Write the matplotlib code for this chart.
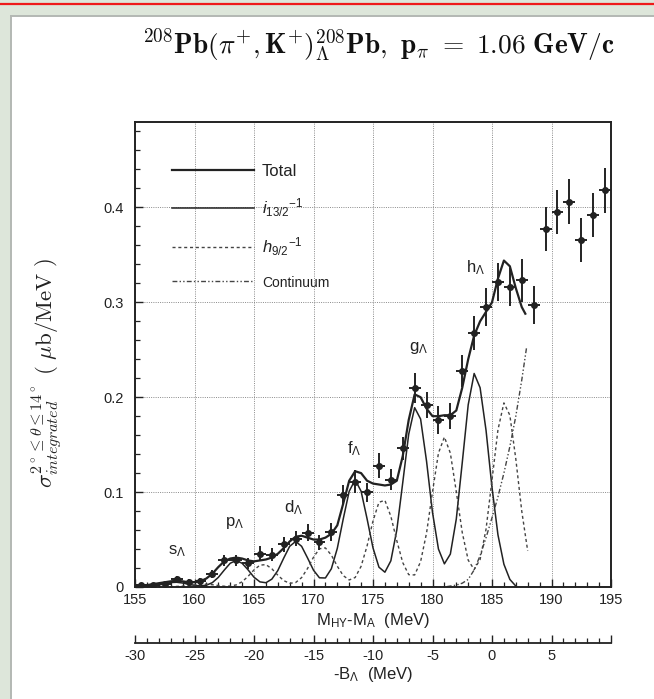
import matplotlib
matplotlib.use('Agg')
import matplotlib.pyplot as plt
from matplotlib.ticker import MultipleLocator, FixedLocator, FixedFormatter, FuncFormatter
from matplotlib.patches import Rectangle
from matplotlib.lines import Line2D

# ---------------- data ----------------
data_x = [155.5, 156.5, 157.5, 158.5, 159.5, 160.5, 161.5, 162.5, 163.5, 164.5,
          165.5, 166.5, 167.5, 168.5, 169.5, 170.5, 171.5, 172.5, 173.5, 174.5,
          175.5, 176.5, 177.5, 178.5, 179.5, 180.5, 181.5, 182.5, 183.5, 184.5,
          185.5, 186.5, 187.5, 188.5, 189.5, 190.5, 191.5, 192.5, 193.5, 194.5]
data_y = [0.0025, 0.002, 0.0035, 0.0085, 0.0056, 0.0066, 0.0137, 0.028, 0.028, 0.025,
          0.035, 0.034, 0.045, 0.051, 0.057, 0.047, 0.058, 0.097, 0.111, 0.100,
          0.128, 0.113, 0.146, 0.210, 0.192, 0.176, 0.180, 0.228, 0.268, 0.295,
          0.321, 0.316, 0.323, 0.297, 0.377, 0.395, 0.406, 0.366, 0.392, 0.418]
data_err = [0.002, 0.002, 0.002, 0.003, 0.003, 0.003, 0.004, 0.006, 0.006, 0.006,
            0.008, 0.007, 0.008, 0.008, 0.009, 0.008, 0.009, 0.010, 0.012, 0.010,
            0.013, 0.011, 0.012, 0.016, 0.014, 0.015, 0.014, 0.017, 0.018, 0.020,
            0.020, 0.020, 0.023, 0.020, 0.023, 0.023, 0.024, 0.023, 0.023, 0.024]
bin_half = 0.5

curve_x = [155.0, 155.5, 156.0, 156.5, 157.0, 157.5, 158.0, 158.5, 159.0, 159.5,
           160.0, 160.5, 161.0, 161.5, 162.0, 162.5, 163.0, 163.5, 164.0, 164.5,
           165.0, 165.5, 166.0, 166.5, 167.0, 167.5, 168.0, 168.5, 169.0, 169.5,
           170.0, 170.5, 171.0, 171.5, 172.0, 172.5, 173.0, 173.5, 174.0, 174.5,
           175.0, 175.5, 176.0, 176.5, 177.0, 177.5, 178.0, 178.5, 179.0, 179.5,
           180.0, 180.5, 181.0, 181.5, 182.0, 182.5, 183.0, 183.5, 184.0, 184.5,
           185.0, 185.5, 186.0, 186.5, 187.0, 187.5, 188.0]

# i13/2^-1 component (155.0 ... 187.0)
i13_y = [0.0, 0.0001, 0.0004, 0.001, 0.002, 0.0035, 0.0047, 0.005, 0.0042, 0.0029,
         0.0017, 0.0012, 0.0019, 0.0046, 0.0101, 0.0178, 0.025, 0.028, 0.025, 0.0181,
         0.0103, 0.0054, 0.0045, 0.0083, 0.0173, 0.0305, 0.0429, 0.048, 0.0429, 0.0306,
         0.0177, 0.0097, 0.0095, 0.0192, 0.0407, 0.0718, 0.1009, 0.113, 0.1009, 0.072,
         0.0412, 0.0209, 0.0156, 0.0276, 0.060, 0.110, 0.161, 0.189, 0.177, 0.1325,
         0.0786, 0.040, 0.0244, 0.0347, 0.0717, 0.131, 0.192, 0.225, 0.210, 0.165,
         0.105, 0.055, 0.024, 0.008, 0.001]

# h9/2^-1 component (155.0 ... 188.0)
h9_y = [0.0, 0.0, 0.0, 0.0001, 0.0002, 0.0003, 0.0004, 0.0006, 0.0009, 0.0014,
        0.0022, 0.0029, 0.0029, 0.0024, 0.0016, 0.0008, 0.001, 0.0022, 0.0055, 0.0112,
        0.018, 0.023, 0.0236, 0.0192, 0.0125, 0.0067, 0.0039, 0.0047, 0.0099, 0.0195,
        0.0314, 0.0403, 0.0412, 0.0336, 0.0219, 0.012, 0.0074, 0.010, 0.0218, 0.0432,
        0.0696, 0.0893, 0.0913, 0.0745, 0.0488, 0.0257, 0.013, 0.0127, 0.0267, 0.0569,
        0.1003, 0.1411, 0.158, 0.1411, 0.1004, 0.0574, 0.0283, 0.0184, 0.029, 0.061,
        0.1127, 0.1656, 0.194, 0.181, 0.135, 0.080, 0.038]

cont_x = [180.0, 181.0, 181.5, 182.0, 182.5, 183.0, 183.5, 184.0, 184.5, 185.0,
          185.5, 186.0, 186.5, 187.0, 187.5, 187.9]
cont_y = [0.0, 0.0, 0.001, 0.002, 0.004, 0.008, 0.018, 0.033, 0.052, 0.073,
          0.095, 0.120, 0.148, 0.180, 0.218, 0.252]

total_x = curve_x[:66] + [187.8]
total_y = [0.002, 0.002, 0.002, 0.003, 0.004, 0.005, 0.006, 0.0065, 0.006, 0.005,
           0.005, 0.006, 0.009, 0.014, 0.021, 0.027, 0.030, 0.031, 0.030, 0.028,
           0.027, 0.028, 0.029, 0.031, 0.035, 0.041, 0.048, 0.053, 0.054, 0.052,
           0.050, 0.050, 0.052, 0.056, 0.065, 0.088, 0.112, 0.122, 0.120, 0.112,
           0.109, 0.108, 0.107, 0.108, 0.112, 0.138, 0.176, 0.203, 0.200, 0.188,
           0.180, 0.180, 0.181, 0.181, 0.186, 0.210, 0.240, 0.265, 0.280, 0.290,
           0.300, 0.325, 0.344, 0.338, 0.315, 0.295, 0.288]

shell_labels = [r's$_{\Lambda}$', r'p$_{\Lambda}$', r'd$_{\Lambda}$',
                r'f$_{\Lambda}$', r'g$_{\Lambda}$', r'h$_{\Lambda}$']
shell_x = [158.5, 163.4, 168.3, 173.4, 178.8, 183.6]
shell_y = [0.038, 0.067, 0.084, 0.146, 0.252, 0.337]

x_ticks = [155, 160, 165, 170, 175, 180, 185, 190, 195]
b_ticks = [-30, -25, -20, -15, -10, -5, 0, 5, 10]
b_labels = ['-30', '-25', '-20', '-15', '-10', '-5', '0', '5', '']
B_OFFSET = 185.0

# ---------------- style ----------------
plt.rcParams['font.family'] = ['Liberation Sans', 'DejaVu Sans']
plt.rcParams['mathtext.fontset'] = 'custom'
plt.rcParams['mathtext.rm'] = 'Liberation Sans'
plt.rcParams['mathtext.it'] = 'Liberation Sans:italic'
plt.rcParams['mathtext.bf'] = 'Liberation Sans:bold'
INK = '#222222'
W, H = 654, 699

fig = plt.figure(figsize=(W / 100, H / 100), dpi=100, facecolor='#dde6da')
fig.add_artist(Rectangle((11 / W, 0), 1, (H - 16) / H, transform=fig.transFigure,
                         facecolor='white', edgecolor='none', zorder=-10))
fig.add_artist(Line2D([11 / W, 11 / W], [0, (H - 16) / H], transform=fig.transFigure,
                      color='#b3b8b3', lw=1.4, zorder=-9))
fig.add_artist(Line2D([11 / W, 1], [(H - 16) / H] * 2, transform=fig.transFigure,
                      color='#b3b8b3', lw=1.4, zorder=-9))
fig.add_artist(Line2D([0, 1], [(H - 4) / H] * 2, transform=fig.transFigure,
                      color='#ee1a1a', lw=1.6, zorder=-9))

ax = fig.add_axes([135 / W, 1 - 587 / H, 476 / W, 465 / H])
ax.set_facecolor('white')
ax.set_xlim(155, 195)
ax.set_ylim(0, 0.49)

ax.grid(True, which='major', ls=(0, (1, 1.3)), color='#8a8a8a', lw=0.7)
ax.set_axisbelow(True)

ax.plot(curve_x[:len(i13_y)], i13_y, color=INK, lw=1.1, label=r'$i_{13/2}{}^{-1}$')
ax.plot(curve_x[:len(h9_y)], h9_y, color='#444444', lw=1.0, ls=(0, (2.2, 2.0)),
        label=r'$h_{9/2}{}^{-1}$')
ax.plot(cont_x, cont_y, color='#444444', lw=1.0, ls=(0, (3.5, 1.6, 1, 1.6, 1, 1.6)),
        label='Continuum')
ax.plot(total_x, total_y, color=INK, lw=1.6, label='Total')

ax.errorbar(data_x, data_y, yerr=data_err, xerr=bin_half, fmt='o', ms=4.0,
            color=INK, mfc=INK, mec=INK, elinewidth=1.4, capsize=0, zorder=5)

for t, x, y in zip(shell_labels, shell_x, shell_y):
    ax.text(x, y, t, ha='center', va='center', fontsize=12, color=INK)

h, l = ax.get_legend_handles_labels()
order = [3, 0, 1, 2]
leg = ax.legend([h[i] for i in order], [l[i] for i in order], loc='upper left',
                bbox_to_anchor=(0.06, 0.927), frameon=False, fontsize=12,
                handlelength=4.9, handletextpad=0.5, labelspacing=1.02, borderpad=0)
for t in leg.get_texts():
    t.set_color(INK)
leg.get_texts()[3].set_fontsize(10)

ax.xaxis.set_major_locator(FixedLocator(x_ticks))
ax.xaxis.set_minor_locator(MultipleLocator(1))
ax.yaxis.set_major_locator(MultipleLocator(0.1))
ax.yaxis.set_minor_locator(MultipleLocator(0.02))
ax.yaxis.set_major_formatter(FuncFormatter(lambda v, p: '0' if abs(v) < 1e-9 else f'{v:.1f}'))
ax.tick_params(which='both', direction='in', top=False, right=False, colors=INK,
               labelsize=10.5)
ax.tick_params(which='major', length=6, width=1.0)
ax.tick_params(which='minor', length=3.5, width=0.9)
ax.tick_params(axis='y', pad=8)
ax.tick_params(axis='x', pad=4)
for s in ax.spines.values():
    s.set_linewidth(1.4)
    s.set_color(INK)

ax.set_xlabel(r'M$_{\mathrm{HY}}$-M$_{\mathrm{A}}$  (MeV)', fontsize=12, color=INK, labelpad=3)

sec = ax.secondary_xaxis((587 - 643) / 465,
                         functions=(lambda v: v - B_OFFSET, lambda v: v + B_OFFSET))
sec.xaxis.set_major_locator(FixedLocator(b_ticks))
sec.xaxis.set_major_formatter(FixedFormatter(b_labels))
sec.xaxis.set_minor_locator(MultipleLocator(1))
sec.tick_params(which='both', direction='in', colors=INK, labelsize=10.5, pad=4)
sec.tick_params(which='major', length=6, width=1.0)
sec.tick_params(which='minor', length=3.5, width=0.9)
sec.spines['bottom'].set_linewidth(1.3)
sec.spines['bottom'].set_color(INK)
sec.set_xlabel(r'-B$_{\Lambda}$  (MeV)', fontsize=12, color=INK, labelpad=2)

fig.text(47 / W, 1 - 373 / H,
         r'$\sigma^{2^\circ\leq\theta\leq14^\circ}_{integrated}\ (\ \mu\mathrm{b/MeV}\ )$',
         rotation=90, ha='center', va='center', fontsize=16.5, color=INK,
         math_fontfamily='cm')

fig.text(378 / W, 1 - 46 / H,
         r'$^{\mathbf{208}}\mathbf{Pb(}\pi^{+}\mathbf{,K}^{+}\mathbf{)}^{\mathbf{208}}_{\Lambda}'
         r'\mathbf{Pb,}\ \mathbf{p}_{\pi}\ \mathbf{=}\ \mathbf{1.06}\ \mathbf{GeV/c}$',
         ha='center', va='center', fontsize=19.7, color='#111111', math_fontfamily='cm')

fig.savefig('out.png', dpi=100, facecolor=fig.get_facecolor())
